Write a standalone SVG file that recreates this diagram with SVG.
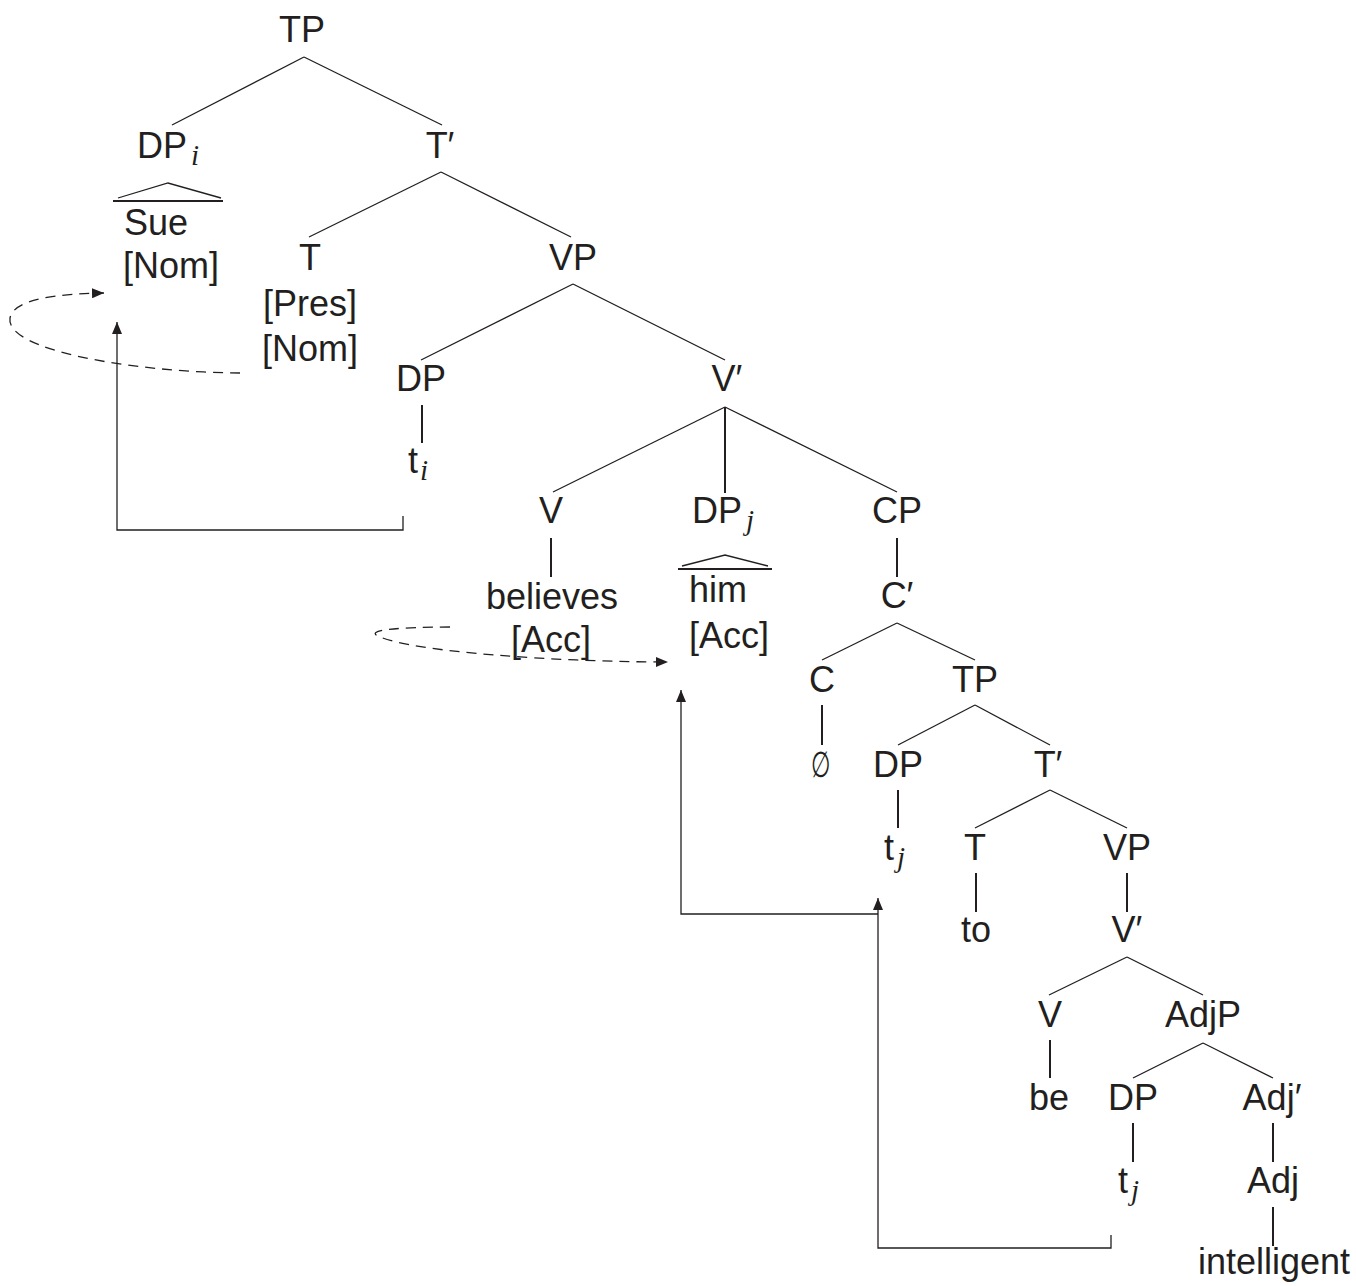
<svg xmlns="http://www.w3.org/2000/svg" width="1356" height="1286" viewBox="0 0 1356 1286">
<style>
text{font-family:"Liberation Sans",Arial,sans-serif;font-size:36px;fill:#231f20}
.m{text-anchor:middle}
.sub{font-family:"Liberation Serif","DejaVu Serif",serif;font-style:italic;font-size:29px}
.br{stroke:#231f20;stroke-width:1.3;fill:none}
.un{stroke:#231f20;stroke-width:2;fill:none}
.tri{stroke:#231f20;stroke-width:1.3;fill:none}
.arr{stroke:#231f20;stroke-width:1.3;fill:none;marker-end:url(#ah)}
.dash{stroke:#231f20;stroke-width:1.3;fill:none;stroke-dasharray:10 7;marker-end:url(#ah)}
</style>
<defs>
<marker id="ah" markerUnits="userSpaceOnUse" markerWidth="13" markerHeight="10" refX="12" refY="5" orient="auto">
<path d="M0,0 L12,5 L0,10 z" fill="#231f20"/>
</marker>
</defs>
<rect width="1356" height="1286" fill="#ffffff"/>
<g id="connectors">
<line class="br" x1="304" y1="57" x2="172" y2="125"/>
<line class="br" x1="304" y1="57" x2="442" y2="125"/>
<line class="br" x1="441" y1="172" x2="309" y2="237"/>
<line class="br" x1="441" y1="172" x2="571" y2="237"/>
<line class="br" x1="573" y1="284" x2="421" y2="360"/>
<line class="br" x1="573" y1="284" x2="725" y2="360"/>
<line class="un" x1="422" y1="405" x2="422" y2="443"/>
<line class="br" x1="725" y1="407" x2="553" y2="492"/>
<line class="un" x1="725" y1="407" x2="725" y2="493"/>
<line class="br" x1="725" y1="407" x2="897" y2="492"/>
<line class="un" x1="551" y1="538" x2="551" y2="577"/>
<line class="un" x1="897" y1="538" x2="897" y2="577"/>
<line class="br" x1="897" y1="623" x2="822" y2="660"/>
<line class="br" x1="897" y1="623" x2="975" y2="660"/>
<line class="un" x1="822" y1="705" x2="822" y2="745"/>
<line class="br" x1="975" y1="705" x2="898" y2="745"/>
<line class="br" x1="975" y1="705" x2="1050" y2="745"/>
<line class="un" x1="898" y1="790" x2="898" y2="828"/>
<line class="br" x1="1050" y1="790" x2="975" y2="828"/>
<line class="br" x1="1050" y1="790" x2="1127" y2="828"/>
<line class="un" x1="976" y1="873" x2="976" y2="912"/>
<line class="un" x1="1127" y1="873" x2="1127" y2="912"/>
<line class="br" x1="1127" y1="957" x2="1049" y2="995"/>
<line class="br" x1="1127" y1="957" x2="1203" y2="995"/>
<line class="un" x1="1050" y1="1040" x2="1050" y2="1078"/>
<line class="br" x1="1203" y1="1043" x2="1133" y2="1078"/>
<line class="br" x1="1203" y1="1043" x2="1273" y2="1078"/>
<line class="un" x1="1133" y1="1123" x2="1133" y2="1162"/>
<line class="un" x1="1273" y1="1123" x2="1273" y2="1162"/>
<line class="un" x1="1273" y1="1207" x2="1273" y2="1246"/>
<path class="arr" d="M403,516 V530 H117 V322"/>
<path class="dash" d="M240,373 C130,372 5,350 10,318 C14,298 60,294 104,293"/>
<path class="dash" d="M450,627 C400,627 365,630 378,636 C410,652 560,662 668,662"/>
<path class="arr" d="M1111,1235 V1248 H878 V898"/>
<path class="arr" d="M878,914 H681 V690"/>
</g>
<g id="n-TP"><text class="m" x="302" y="42">TP</text></g>
<g id="n-DPi"><text x="137" y="158">DP<tspan class="sub" dx="4" dy="7">i</tspan></text></g>
<g id="n-Sue">
<path class="tri" d="M118,198 L168,183 L221,198"/>
<line x1="113" y1="201" x2="223" y2="201" stroke="#231f20" stroke-width="2"/>
<text x="124" y="235">Sue</text>
<text x="123" y="278">[Nom]</text>
</g>
<g id="n-Tbar"><text class="m" x="440" y="158">T′</text></g>
<g id="n-T"><text class="m" x="310" y="270">T</text><text class="m" x="310" y="316">[Pres]</text><text class="m" x="310" y="361">[Nom]</text></g>
<g id="n-VP"><text class="m" x="573" y="270">VP</text></g>
<g id="n-DP"><text class="m" x="421" y="391">DP</text></g>
<g id="n-ti"><text x="408" y="473">t<tspan class="sub" dx="2" dy="7">i</tspan></text></g>
<g id="n-Vbar"><text class="m" x="727" y="391">V′</text></g>
<g id="n-V"><text class="m" x="551" y="523">V</text></g>
<g id="n-believes"><text class="m" x="552" y="609">believes</text><text class="m" x="551" y="652">[Acc]</text></g>
<g id="n-DPj"><text x="692" y="523">DP<tspan class="sub" dx="4" dy="7">j</tspan></text></g>
<g id="n-him">
<path class="tri" d="M682,566 L725,555 L768,566"/>
<line x1="678" y1="569" x2="772" y2="569" stroke="#231f20" stroke-width="2"/>
<text x="689" y="602">him</text>
<text x="689" y="648">[Acc]</text>
</g>
<g id="n-CP"><text class="m" x="897" y="523">CP</text></g>
<g id="n-Cbar"><text class="m" x="897" y="608">C′</text></g>
<g id="n-C"><text class="m" x="822" y="692">C</text></g>
<g id="n-empty"><text class="m" transform="translate(821,777) scale(0.62,1)" x="0" y="0" style="font-family:'DejaVu Serif',serif;font-size:36px">∅</text></g>
<g id="n-TP2"><text class="m" x="975" y="692">TP</text></g>
<g id="n-DP2"><text class="m" x="898" y="777">DP</text></g>
<g id="n-tj"><text x="884" y="860">t<tspan class="sub" dx="3" dy="7">j</tspan></text></g>
<g id="n-Tbar2"><text class="m" x="1048" y="777">T′</text></g>
<g id="n-T2"><text class="m" x="975" y="860">T</text></g>
<g id="n-to"><text class="m" x="976" y="942">to</text></g>
<g id="n-VP2"><text class="m" x="1127" y="860">VP</text></g>
<g id="n-Vbar2"><text class="m" x="1127" y="942">V′</text></g>
<g id="n-V2"><text class="m" x="1050" y="1027">V</text></g>
<g id="n-be"><text class="m" x="1049" y="1110">be</text></g>
<g id="n-AdjP"><text class="m" x="1203" y="1027">AdjP</text></g>
<g id="n-DP3"><text class="m" x="1133" y="1110">DP</text></g>
<g id="n-tj2"><text x="1118" y="1193">t<tspan class="sub" dx="3" dy="7">j</tspan></text></g>
<g id="n-Adjbar"><text class="m" x="1272" y="1110">Adj′</text></g>
<g id="n-Adj"><text class="m" x="1273" y="1193">Adj</text></g>
<g id="n-intelligent"><text class="m" x="1274" y="1274">intelligent</text></g>
</svg>
